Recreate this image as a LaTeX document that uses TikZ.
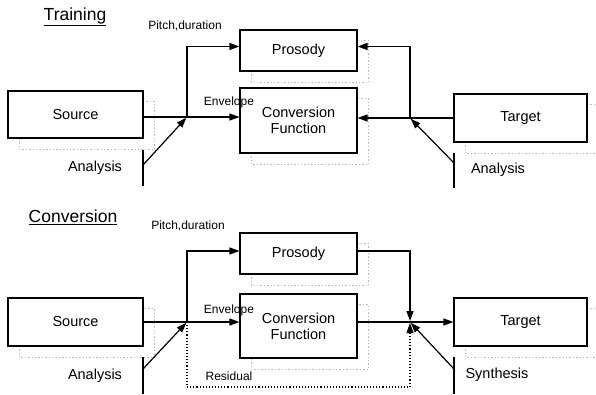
\documentclass[tikz,border=0pt]{standalone}
\usepackage{fontspec}
\setmainfont{Liberation Sans}
\usetikzlibrary{arrows.meta,backgrounds}
\newcommand\boxshadow[1]{\draw[shd] ([shift={(12,11)}]#1.north west) rectangle ([shift={(11,11)}]#1.south east);}
\begin{document}
\begin{tikzpicture}[x=1pt,y=-1pt,
  box/.style={draw,line width=1.1pt,fill=white,inner sep=0pt,align=center,font=\fontsize{14.5}{16}\selectfont},
  lbl/.style={inner sep=0pt,font=\fontsize{14.5}{16}\selectfont},
  small/.style={inner sep=0pt,font=\fontsize{12}{14}\selectfont},
  ttl/.style={inner sep=0pt,font=\fontsize{17.5}{20}\selectfont},
  ln/.style={line width=1.2pt},
  arr/.style={line width=1.2pt,-{Triangle[length=10pt,width=7pt]}},
  shd/.style={draw=gray!55,line width=1.4pt,dotted}]
\useasboundingbox (0,0) rectangle (596,394);

% ---------------- Training ----------------
\node[ttl] (t1) at (75,17) {\underline{Training}};
\node[small] (pd1) at (185,26) {Pitch,duration};
\node[box,minimum width=135pt,minimum height=47pt] (src1) at (75.5,114.5) {Source};
\node[box,minimum width=117pt,minimum height=41pt] (pros1) at (298.5,50.5) {Prosody};
\node[box,minimum width=117pt,minimum height=65pt] (conv1) at (298.5,120.5) {Conversion\\Function};
\node[box,minimum width=133pt,minimum height=48pt] (tgt1) at (520.5,118) {Target};
\node[small] (env1) at (229,102) {Envelope};
\node[lbl] (an1) at (95,168) {Analysis};
\node[lbl] (an2) at (498,170) {Analysis};

\coordinate (j1) at (187,117);
\coordinate (j2) at (410,118);
\coordinate (a1t) at (143,150);
\coordinate (a1m) at (143,165);
\coordinate (a1b) at (143,186);
\coordinate (a2t) at (454,153);
\coordinate (a2m) at (454,163);
\coordinate (a2b) at (454,188);

\draw[ln] (j1 -| src1.east) -- (j1);
\draw[arr] (j1) -- (j1 -| conv1.west);
\draw[arr] (j1) |- ([yshift=4pt]pros1.west);
\draw[ln] (a1t) -- (a1b);
\draw[arr,shorten >=1pt] (a1m) -- (j1);

\draw[ln] (tgt1.west) -- (j2);
\draw[arr] (j2) -- (j2 -| conv1.east);
\draw[arr] (j2) |- ([yshift=4pt]pros1.east);
\draw[ln] (a2t) -- (a2b);
\draw[arr,shorten >=1pt] (a2m) -- (j2);

% ---------------- Conversion ----------------
\node[ttl] (t2) at (73,217) {\underline{Conversion}};
\node[small] (pd2) at (188,226) {Pitch,duration};
\node[box,minimum width=135pt,minimum height=48pt] (src2) at (75.5,322) {Source};
\node[box,minimum width=117pt,minimum height=41pt] (pros2) at (298.5,253.5) {Prosody};
\node[box,minimum width=117pt,minimum height=64pt] (conv2) at (298.5,326) {Conversion\\Function};
\node[box,minimum width=133pt,minimum height=48pt] (tgt2) at (520.5,322) {Target};
\node[small] (env2) at (229,310) {Envelope};
\node[small] (res) at (229,376) {Residual};
\node[lbl] (an3) at (95,376) {Analysis};
\node[lbl] (syn) at (497,375) {Synthesis};

\coordinate (j3) at (187,322);
\coordinate (j4) at (410,322);
\coordinate (rb) at (187,387);
\coordinate (a3t) at (143,357);
\coordinate (a3m) at (143,369);
\coordinate (a3b) at (143,394);
\coordinate (s1t) at (454,357);
\coordinate (s1m) at (454,369);
\coordinate (s1b) at (454,394);

\draw[ln] (src2.east) -- (j3);
\draw[arr] (j3) -- (j3 -| conv2.west);
\draw[arr] (j3) |- ([yshift=2.5pt]pros2.west);
\draw[ln] (a3t) -- (a3b);
\draw[arr,shorten >=1pt] (a3m) -- (j3);

\draw[arr,shorten >=1pt] ([yshift=2.5pt]pros2.east) -| (j4);
\draw[arr] (j4 -| conv2.east) -- (tgt2.west);
\draw[line width=1.1pt,dotted,-{Triangle[length=10pt,width=7pt]},shorten >=1pt] (j3) -- (rb) -- (rb -| j4) -- (j4);
\draw[ln] (s1t) -- (s1b);
\draw[arr,shorten >=1pt] (s1m) -- (j4);

% ---------------- shadows ----------------
\begin{scope}[on background layer]
\boxshadow{src1}
\boxshadow{pros1}
\boxshadow{conv1}
\boxshadow{tgt1}
\boxshadow{src2}
\boxshadow{pros2}
\boxshadow{conv2}
\boxshadow{tgt2}
\end{scope}
\end{tikzpicture}
\end{document}
